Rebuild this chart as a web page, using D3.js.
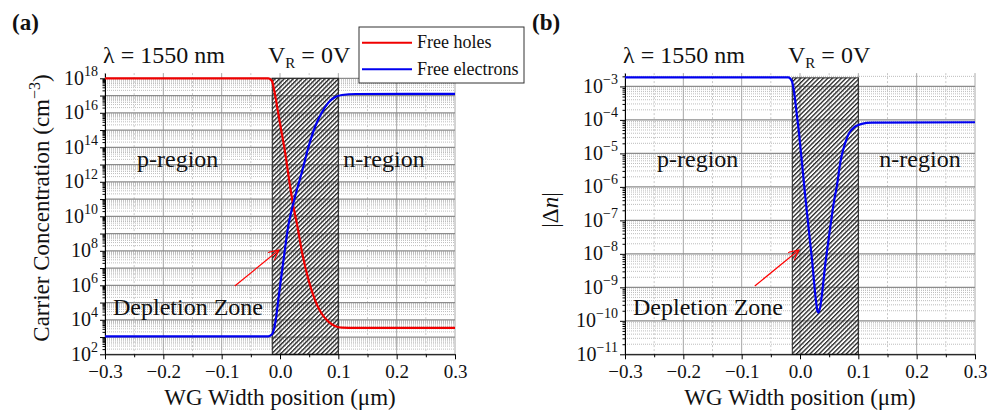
<!DOCTYPE html>
<html>
<head>
<meta charset="utf-8">
<script src="https://cdn.jsdelivr.net/npm/d3@7"></script>
<style>
  body { margin: 0; background: #fff; }
  text { font-family: "Liberation Serif", "Times New Roman", serif; fill: #111; }
</style>
</head>
<body>
<svg id="chart" width="995" height="412"></svg>
<script>
// x positions (um) shared by both panels
var xTicks = [-0.3, -0.2, -0.1, 0.0, 0.1, 0.2, 0.3];
var xMinor = [-0.25, -0.15, -0.05, 0.05, 0.15, 0.25];
var depletion = [-0.0132, 0.1];

// (a) carrier concentration, cm^-3
var holeX = [-0.3, -0.02, -0.014, -0.009, -0.003, 0.003, 0.009, 0.014, 0.021, 0.031, 0.037, 0.049, 0.06, 0.071, 0.083, 0.094, 0.106, 0.13, 0.3];
var holeN = [1.0e18, 1.0e18, 7.2e17, 1.35e17, 9.3e15, 6.5e14, 4.5e13, 3.1e12, 8.9e10, 1.6e9, 1.1e8, 2.0e6, 1.4e5, 2.4e4, 7.8e3, 4.4e3, 3.5e3, 3.4e3, 3.4e3];
var elecX = [-0.3, -0.02, -0.014, -0.01, -0.006, -0.003, 0.003, 0.009, 0.014, 0.02, 0.027, 0.037, 0.049, 0.06, 0.071, 0.083, 0.094, 0.106, 0.13, 0.3];
var elecN = [1.1e3, 1.1e3, 1.4e3, 3.2e3, 2.0e4, 1.4e5, 5.0e6, 1.7e8, 2.5e9, 2.3e10, 2.0e11, 3.1e12, 1.1e14, 1.5e15, 9.3e15, 3.9e16, 7.9e16, 1.07e17, 1.23e17, 1.26e17];
var concExp = [2, 4, 6, 8, 10, 12, 14, 16, 18];

// (b) |delta n|
var dnX = [-0.3, -0.02, -0.0142, -0.0098, -0.0057, -0.0017, 0.0029, 0.0074, 0.0115, 0.0206, 0.0303, 0.0314, 0.0451, 0.0588, 0.0629, 0.0698, 0.0771, 0.084, 0.0943, 0.1058, 0.1229, 0.3];
var dnV = [1.86e-3, 1.86e-3, 1.48e-3, 6.2e-4, 1.55e-4, 4.0e-5, 6.3e-6, 1.0e-6, 2.0e-7, 6.5e-9, 1.9e-10, 1.75e-10, 8.5e-9, 4.1e-7, 9.8e-7, 6.3e-6, 1.95e-5, 4.0e-5, 6.3e-5, 7.6e-5, 8.3e-5, 8.5e-5];
var dnExp = [-3, -4, -5, -6, -7, -8, -9, -10, -11];

var svg = d3.select("#chart");
var W = 350, plotTop = 73.1, plotBottom = 354.3;

// hatch for the depletion zone
var defs = svg.append("defs");
defs.append("pattern")
  .attr("id", "hatch")
  .attr("width", 3.2).attr("height", 3.2)
  .attr("patternUnits", "userSpaceOnUse")
  .attr("patternTransform", "rotate(45)")
  .append("rect")
  .attr("width", 1.3).attr("height", 3.2)
  .attr("fill", "#222");

var marker = defs.append("marker")
  .attr("id", "arrow")
  .attr("markerUnits", "userSpaceOnUse")
  .attr("markerWidth", 14).attr("markerHeight", 14)
  .attr("refX", 10).attr("refY", 5)
  .attr("orient", "auto");
marker.append("path")
  .attr("d", "M0,0 L10,5 L0,10")
  .attr("fill", "none").attr("stroke", "red").attr("stroke-width", 1.2);

function supText(g, x, y, base, sup, size) {
  var t = g.append("text").attr("x", x).attr("y", y)
    .attr("text-anchor", "end")
    .style("font-size", size + "px");
  t.append("tspan").text(base);
  t.append("tspan").attr("dy", -size * 0.45).style("font-size", (size * 0.7) + "px").text(sup);
  return t;
}

function panel(left, yDom, exps, labelExps, series, hatchTop, nShift) {
  var g = svg.append("g");
  var x = d3.scaleLinear().domain([-0.3, 0.3]).range([left, left + W]);
  var y = d3.scaleLog().domain(yDom).range([plotBottom, plotTop]);

  // minor horizontal grid (2..9 x 10^k)
  var minor = [];
  exps.forEach(function(e) {
    for (var m = 2; m <= 9; m++) {
      var v = m * Math.pow(10, e);
      if (v > yDom[0] && v < yDom[1]) minor.push(v);
    }
  });
  g.selectAll(".hmin").data(minor).enter().append("line")
    .attr("x1", left).attr("x2", left + W)
    .attr("y1", function(d) { return y(d); }).attr("y2", function(d) { return y(d); })
    .attr("stroke", "#bdbdbd").attr("stroke-width", 1)
    .attr("stroke-dasharray", "1,1");

  g.selectAll(".vmin").data(xMinor).enter().append("line")
    .attr("x1", function(d) { return x(d); }).attr("x2", function(d) { return x(d); })
    .attr("y1", plotTop).attr("y2", plotBottom)
    .attr("stroke", "#c8c8c8").attr("stroke-dasharray", "2,2");

  g.selectAll(".vmaj").data(xTicks).enter().append("line")
    .attr("x1", function(d) { return x(d); }).attr("x2", function(d) { return x(d); })
    .attr("y1", plotTop).attr("y2", plotBottom)
    .attr("stroke", "#a8a8a8");

  var decades = exps.map(function(e) { return Math.pow(10, e); });
  g.selectAll(".hmaj").data(decades).enter().append("line")
    .attr("x1", left).attr("x2", left + W)
    .attr("y1", function(d) { return y(d); }).attr("y2", function(d) { return y(d); })
    .attr("stroke", "#8c8c8c").attr("stroke-width", 1.2);

  // depletion zone
  g.append("rect")
    .attr("x", x(depletion[0])).attr("y", y(hatchTop))
    .attr("width", x(depletion[1]) - x(depletion[0]))
    .attr("height", plotBottom - y(hatchTop))
    .attr("fill", "url(#hatch)")
    .attr("stroke", "#222").attr("stroke-width", 1);

  // axes
  g.append("g").attr("transform", "translate(0," + plotBottom + ")")
    .call(d3.axisBottom(x).tickValues(xTicks).tickSize(5).tickSizeOuter(0).tickFormat(d3.format(".1f")))
    .call(function(a) {
      a.selectAll("text").attr("dy", 0).attr("y", 24)
        .style("font-family", "Liberation Serif").style("font-size", "19px").attr("fill", "#111");
    });
  g.append("g").attr("transform", "translate(0," + plotBottom + ")")
    .call(d3.axisBottom(x).tickValues(xMinor).tickSize(3).tickSizeOuter(0).tickFormat(""))
    .select(".domain").remove();

  g.append("g").attr("transform", "translate(" + left + ",0)")
    .call(d3.axisLeft(y).tickValues(decades).tickSize(5).tickSizeOuter(0).tickFormat(""));
  g.append("g").attr("transform", "translate(" + left + ",0)")
    .call(d3.axisLeft(y).tickValues(minor).tickSize(2.5).tickSizeOuter(0).tickFormat(""))
    .select(".domain").remove();

  labelExps.forEach(function(e) {
    supText(g, left - 7, y(Math.pow(10, e)) + 6.5, "10", String(e).replace("-", "\u2212"), 20);
  });

  series.forEach(function(s) {
    var pts = s.x.map(function(d, i) { return [d, s.y[i]]; });
    g.append("path")
      .attr("d", d3.line()
        .x(function(d) { return x(d[0]); })
        .y(function(d) { return y(d[1]); })
        .curve(d3.curveMonotoneX)(pts))
      .attr("fill", "none").attr("stroke", s.color).attr("stroke-width", 2.2);
  });

  // annotations
  g.append("text").attr("x", left - 2).attr("y", 63).style("font-size", "24px").text("\u03bb = 1550 nm");
  var vr = g.append("text").attr("x", left + 163).attr("y", 63).style("font-size", "24px");
  vr.append("tspan").text("V");
  vr.append("tspan").attr("dy", 5).style("font-size", "15px").text("R");
  vr.append("tspan").attr("dy", -5).text(" = 0V");
  g.append("text").attr("x", left + 32).attr("y", 167).style("font-size", "24px").text("p-region");
  g.append("text").attr("x", x(0.1) + nShift).attr("y", 167).style("font-size", "24px").text("n-region");
  g.append("text").attr("x", left + 8).attr("y", 315).style("font-size", "24px").text("Depletion Zone");
  g.append("line")
    .attr("x1", x(-0.0775)).attr("y1", 286)
    .attr("x2", x(-0.002)).attr("y2", 250)
    .attr("stroke", "red").attr("stroke-width", 1.2)
    .attr("marker-end", "url(#arrow)");

  // x title
  g.append("text").attr("x", left + W / 2).attr("y", 405)
    .attr("text-anchor", "middle").style("font-size", "23px")
    .text("WG Width position (\u03bcm)");
  return g;
}

var ga = panel(105, [1e2, 2e18], d3.range(2, 19), concExp,
  [{ x: holeX, y: holeN, color: "#f00000" }, { x: elecX, y: elecN, color: "#0000f0" }], 1e18, 5);
var gb = panel(625, [1e-11, 2.5e-3], d3.range(-11, -2), dnExp,
  [{ x: dnX, y: dnV, color: "#0000f0" }], 1.8e-3, 21);

// y titles
var ya = svg.append("text").attr("transform", "translate(49,208) rotate(-90)")
  .attr("text-anchor", "middle").style("font-size", "23px");
ya.append("tspan").text("Carrier Concentration (cm");
ya.append("tspan").attr("dy", -9).style("font-size", "16px").text("\u22123");
ya.append("tspan").attr("dy", 9).text(")");

var yb = svg.append("text").attr("transform", "translate(558,210) rotate(-90)")
  .attr("text-anchor", "middle").style("font-size", "23px");
yb.append("tspan").text("|\u0394");
yb.append("tspan").style("font-style", "italic").text("n");
yb.append("tspan").text("|");

// panel labels
svg.append("text").attr("x", 12).attr("y", 30).style("font-size", "23px").style("font-weight", "bold").text("(a)");
svg.append("text").attr("x", 532).attr("y", 30).style("font-size", "23px").style("font-weight", "bold").text("(b)");

// legend
var lg = svg.append("g");
lg.append("rect").attr("x", 359).attr("y", 27).attr("width", 165).attr("height", 56)
  .attr("fill", "#fff").attr("stroke", "#333");
var legend = [{ name: "Free holes", color: "#f00000" }, { name: "Free electrons", color: "#0000f0" }];
legend.forEach(function(d, i) {
  var yy = 42.7 + i * 26.6;
  lg.append("line").attr("x1", 362).attr("x2", 412).attr("y1", yy).attr("y2", yy)
    .attr("stroke", d.color).attr("stroke-width", 2);
  lg.append("text").attr("x", 417).attr("y", yy + 5.5).style("font-size", "18px").text(d.name);
});
</script>
</body>
</html>
